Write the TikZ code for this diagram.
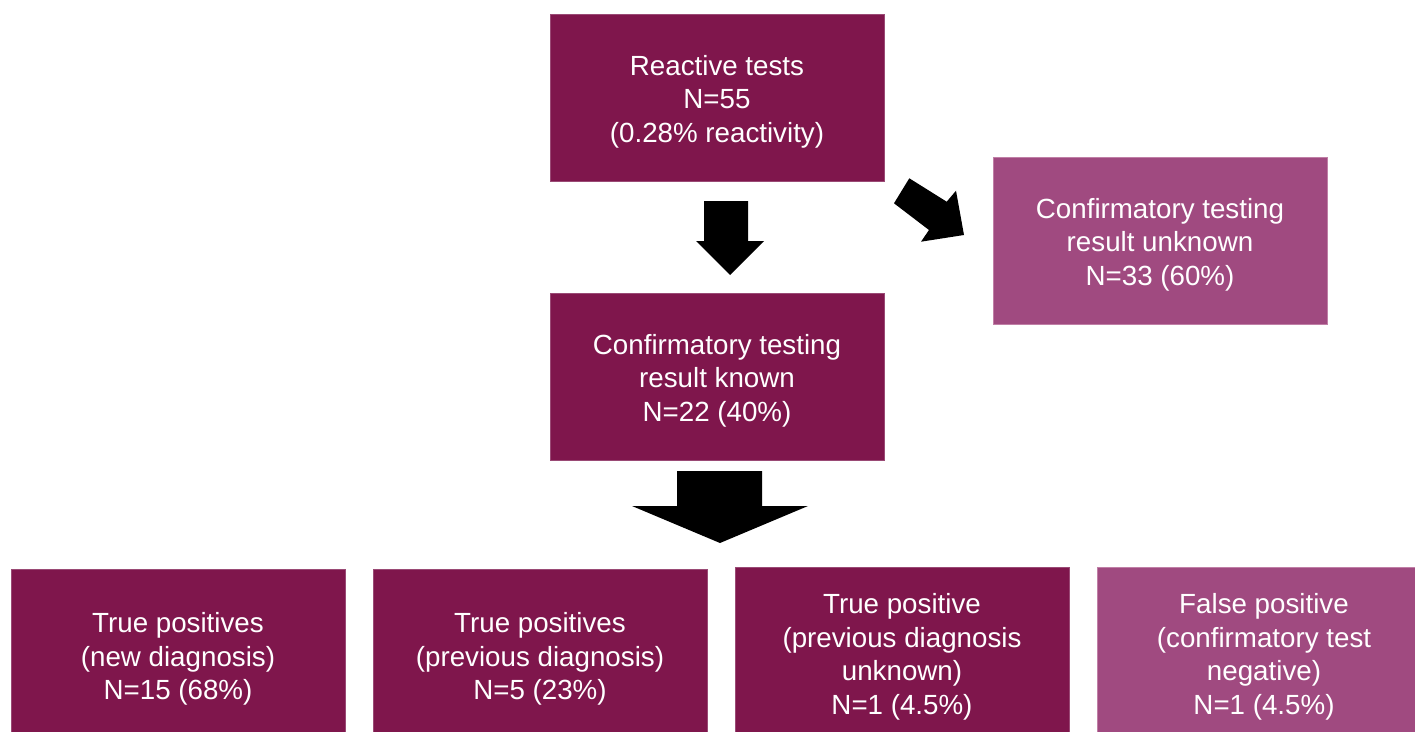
\documentclass[tikz,border=0pt]{standalone}
\usepackage{fontspec}
\setmainfont{Liberation Sans}
\definecolor{darkm}{HTML}{7F164C}
\definecolor{lightm}{HTML}{A04A80}
\definecolor{darkedge}{HTML}{9A4A75}
\definecolor{lightedge}{HTML}{C07FA6}
\newcommand{\topgap}{\rule{0pt}{21pt}}
\begin{document}
\begin{tikzpicture}[x=0.75pt,y=-0.75pt,
  box/.style={rectangle, fill=darkm, draw=darkedge, line width=0.5pt, text=white,
    minimum width=250.5pt, minimum height=125.5pt, inner sep=0pt, align=center,
    font=\fontsize{20.8pt}{25.2pt}\selectfont},
  lbox/.style={box, fill=lightm, draw=lightedge},
  blockarrow/.style={fill=black, draw=none}]
\useasboundingbox (0,0) rectangle (1415,732);
\clip (0,0) rectangle (1415,732);
\node[box] (top) at (717,97.5) {\topgap Reactive tests\\N=55\\(0.28\% reactivity)};
\node[lbox] (unk) at (1160,240.5) {\topgap Confirmatory testing\\result unknown\\N=33 (60\%)};
\node[box] (known) at (717,376.5) {\topgap Confirmatory testing\\result known\\N=22 (40\%)};
\node[box, minimum height=129pt] (b1) at (178,655) {\topgap True positives\\(new diagnosis)\\N=15 (68\%)};
\node[box, minimum height=129pt] (b2) at (540,655) {\topgap True positives\\(previous diagnosis)\\N=5 (23\%)};
\node[box, minimum height=129pt] (b3) at (902,653) {\topgap True positive\\(previous diagnosis\\unknown)\\N=1 (4.5\%)};
\node[lbox, minimum height=129pt] (b4) at (1264,653) {\topgap False positive\\(confirmatory test\\negative)\\N=1 (4.5\%)};
% block arrows
\fill[blockarrow] (704,201) -- (748,201) -- (748,241) -- (764,241) -- (730,275) -- (696,241) -- (704,241) -- cycle;
\fill[blockarrow] (894,203.3) -- (909.3,178.3) -- (946.7,201.7) -- (956,190.7) -- (964,235) -- (921,241.7) -- (929,230) -- cycle;
\fill[blockarrow] (677,471) -- (762,471) -- (762,506) -- (808,506) -- (720,543) -- (632,506) -- (677,506) -- cycle;
\end{tikzpicture}
\end{document}
